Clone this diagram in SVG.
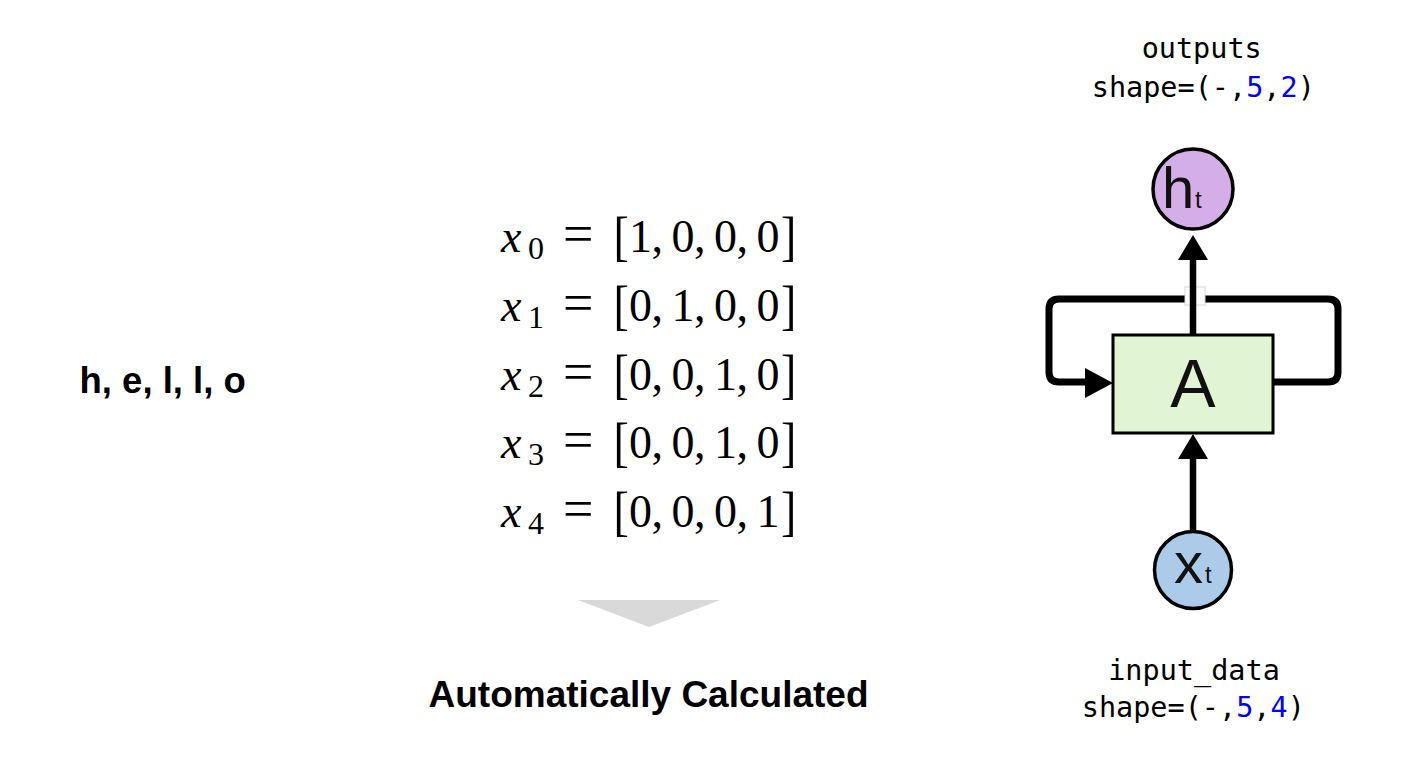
<svg xmlns="http://www.w3.org/2000/svg" width="1410" height="774" viewBox="0 0 1410 774">
<style>
.bold{font-family:"Liberation Sans",Arial,sans-serif;font-weight:bold;fill:#000}
.math{font-family:"Liberation Serif","Times New Roman",serif;fill:#000;font-size:46px}
.mi{font-style:italic}
.sub{font-size:32px}
.eq{font-size:54px}
.mono{font-family:"DejaVu Sans Mono","Liberation Mono",monospace;font-size:28.5px;fill:#000}
.num{fill:#0000ff}
.lbl{font-family:"Liberation Sans",Arial,sans-serif;fill:#111}
.wire{fill:none;stroke:#000;stroke-width:7;stroke-linejoin:round}
.head{fill:#000}
.node{stroke:#000;stroke-width:3.5}
</style>
<rect width="1410" height="774" fill="#fff"/>

<g id="word">
<text class="bold" x="79.5" y="393" font-size="36.5">h, e, l, l, o</text>
</g>

<g id="onehot">
<g>
<text class="math mi" x="501" y="252">x</text>
<text class="math sub" x="528" y="259">0</text>
<text class="math eq" x="563" y="252">=</text>
<text class="math" transform="translate(613.5,255) scale(1,1.2)">[</text>
<text class="math" x="629 651.5 671.5 694 714 736.5 756.5" y="252">1,0,0,0</text>
<text class="math" transform="translate(781,255) scale(1,1.2)">]</text>
</g>
<g>
<text class="math mi" x="501" y="320.75">x</text>
<text class="math sub" x="528" y="327.75">1</text>
<text class="math eq" x="563" y="320.75">=</text>
<text class="math" transform="translate(613.5,323.75) scale(1,1.2)">[</text>
<text class="math" x="629 651.5 671.5 694 714 736.5 756.5" y="320.75">0,1,0,0</text>
<text class="math" transform="translate(781,323.75) scale(1,1.2)">]</text>
</g>
<g>
<text class="math mi" x="501" y="389.5">x</text>
<text class="math sub" x="528" y="396.5">2</text>
<text class="math eq" x="563" y="389.5">=</text>
<text class="math" transform="translate(613.5,392.5) scale(1,1.2)">[</text>
<text class="math" x="629 651.5 671.5 694 714 736.5 756.5" y="389.5">0,0,1,0</text>
<text class="math" transform="translate(781,392.5) scale(1,1.2)">]</text>
</g>
<g>
<text class="math mi" x="501" y="458.25">x</text>
<text class="math sub" x="528" y="465.25">3</text>
<text class="math eq" x="563" y="458.25">=</text>
<text class="math" transform="translate(613.5,461.25) scale(1,1.2)">[</text>
<text class="math" x="629 651.5 671.5 694 714 736.5 756.5" y="458.25">0,0,1,0</text>
<text class="math" transform="translate(781,461.25) scale(1,1.2)">]</text>
</g>
<g>
<text class="math mi" x="501" y="527">x</text>
<text class="math sub" x="528" y="534">4</text>
<text class="math eq" x="563" y="527">=</text>
<text class="math" transform="translate(613.5,530) scale(1,1.2)">[</text>
<text class="math" x="629 651.5 671.5 694 714 736.5 756.5" y="527">0,0,0,1</text>
<text class="math" transform="translate(781,530) scale(1,1.2)">]</text>
</g>
</g>

<g id="down-arrow">
<polygon points="578,600 720,600 649,627" fill="#d9d9d9"/>
</g>

<g id="auto-label">
<text class="bold" x="648.5" y="707" font-size="37" text-anchor="middle">Automatically Calculated</text>
</g>

<g id="outputs-label">
<text class="mono" x="1201.7" y="58" text-anchor="middle">outputs</text>
<text class="mono" x="1203.3" y="97" text-anchor="middle">shape=(-,<tspan class="num">5</tspan>,<tspan class="num">2</tspan>)</text>
</g>

<g id="input-label">
<text class="mono" x="1194" y="680" text-anchor="middle">input_data</text>
<text class="mono" x="1193.3" y="717" text-anchor="middle">shape=(-,<tspan class="num">5</tspan>,<tspan class="num">4</tspan>)</text>
</g>

<g id="connectors">
<path class="wire" d="M1274,382 H1328 Q1338,382 1338,372 V309 Q1338,299 1328,299 H1205"/>
<path class="wire" d="M1185,299 H1059 Q1049,299 1049,309 V372 Q1049,382 1059,382 H1088"/>
<rect x="1185" y="287" width="20" height="18" fill="#fff" stroke="#d6d6d6" stroke-width="1"/>
<polygon class="head" points="1085,368 1113,383 1085,398"/>
<line x1="1193" y1="335" x2="1193" y2="256" stroke="#000" stroke-width="6.5"/>
<polygon class="head" points="1178,260 1193,235 1208,260"/>
<line x1="1193" y1="531" x2="1193" y2="455" stroke="#000" stroke-width="6.5"/>
<polygon class="head" points="1178,459 1193,434 1208,459"/>
</g>

<g id="node-A">
<rect x="1113" y="335" width="160" height="98" fill="#e1f4d3" stroke="#000" stroke-width="3"/>
<text class="lbl" x="1193" y="407" font-size="68" text-anchor="middle">A</text>
</g>

<g id="node-h">
<circle class="node" cx="1193" cy="189" r="40" fill="#d4aee6"/>
<text class="lbl" x="1162" y="208" font-size="58">h</text>
<text class="lbl" x="1195" y="208" font-size="24">t</text>
</g>

<g id="node-x">
<circle class="node" cx="1193" cy="570" r="38.5" fill="#abcbe9"/>
<text class="lbl" x="1174" y="583" font-size="58">x</text>
<text class="lbl" x="1205" y="583" font-size="24">t</text>
</g>
</svg>
